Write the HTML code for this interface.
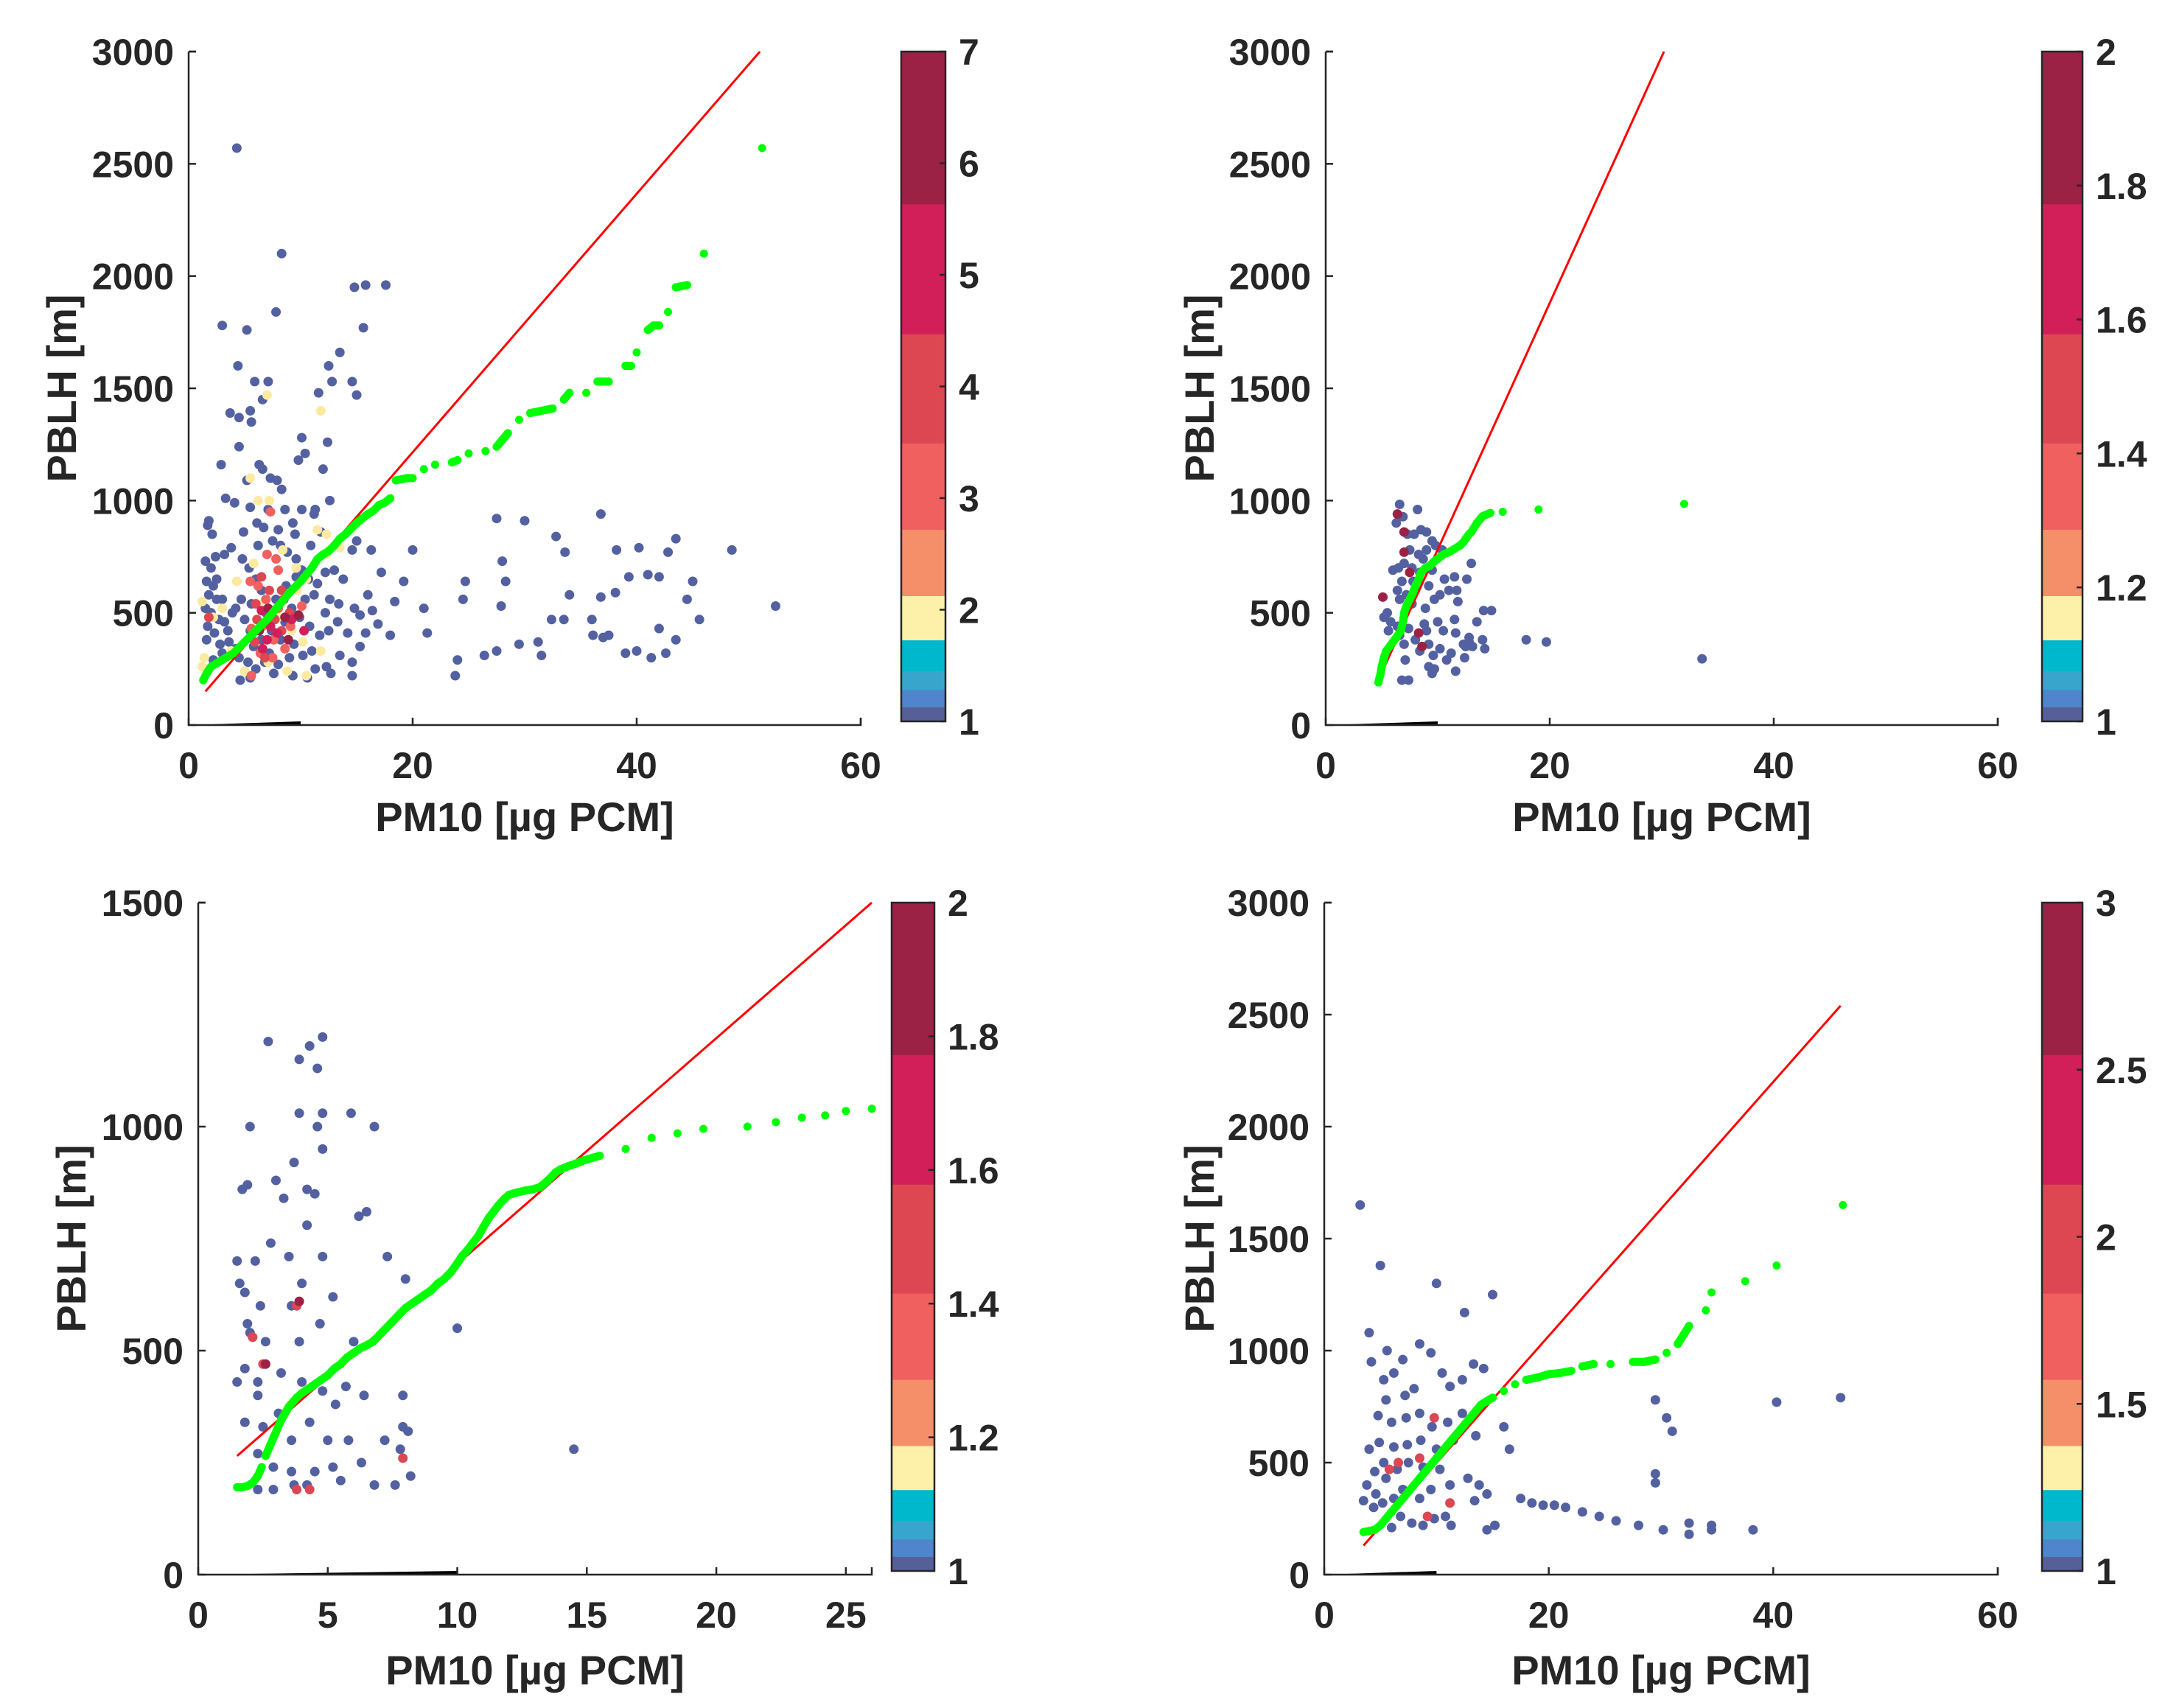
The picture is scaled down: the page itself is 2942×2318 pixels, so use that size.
<!DOCTYPE html>
<html><head><meta charset="utf-8">
<style>
html,body{margin:0;padding:0;background:#fff;}
svg{display:block;}
text{font-family:"Liberation Sans",Arial,sans-serif;font-weight:bold;fill:#262626;}
</style></head>
<body>
<svg id="chart" width="2942" height="2318" viewBox="0 0 2942 2318" xmlns="http://www.w3.org/2000/svg"></svg>
<script>
// ---------- DATA (top-level arrays) ----------
// Panel A (top-left)
const aScatterX=[4.3,8.3,7.8,3,5.2,14.8,15.8,17.6,15.6,13.5,12.5,4.4,5.9,7.1,12.8,14.6,15,11.6,3.7,5.5,4.5,5.6,6.6,10.1,12.4,4.5,10.4,9.8,6.3,6.6,2.9,12,7.3,5.2,7.9,8.3,3.3,4.1,12.6,11.3,1.8,1.7,11.2,10.1,8.6,7.1,5.5,9.3,
27.5,30,36.8,32.8,43.5,40.2,38.2,48.5,42.8,33.6,28,20,16.3,15,14.6,17.2,19.2,21,24.7,28.3,39.3,41,42,45,36.8,38.1,34,44.5,24.5,18.4,18,21.3,16.4,16.9,27.9,45.6,52.4,32.4,33.5,36,36.1,37,37.5,42,43.5,31.2,29.5,27.5,26.4,24,23.8,31.5,39,40,41.3,42.6,15.3,14.6,14.6,12.7,13.5,
1.5,2,2.4,1.6,2.2,1.8,2.5,3.2,3.8,1.5,2,2.7,1.7,3.2,3.5,2.3,1.6,2.8,3.6,4.2,3,2.2,4.5,5.3,6,4.6,5.5,7.6,9.3,10.6,11.3,12.3,11,10.2,9,8,6.8,4.7,5.6,4.2,5,3.9,6.5,6,5.4,4.8,6.2,7.5,8.2,8.8,9.6,10.1,10.7,11.5,12.2,13,12.6,13.4,12.2,13.3,12.5,11.7,10.8,9.9,10.4,11.2,9.2,8.6,7.4,8.2,9.4,6.5,7.2,5.8,5.5,6.9,7.8,8.7,9.6,13.8,14.2,15.3,15.8,14.8,16,3,2.5,2.1,4.9,6.1,6.7,8,9.5,10.9,11.8,
1.2,1.4,1.2,2.2,3,5.8,6.2,7.2,8.4,9.6,10.5,11.5,11.8,7,5.5,4.3,6.8,8,9.2,10.2,11.8,10.5,8.8,7.1,5,3.8,12.3,13.5,12.3,9.7,
5.5,6.2,7,7.8,8,6.9,5.6,6.6,8,9.1,7.6,6.4,5.6,10.1,8.6,7.3,7.5,
6,7.2,8.3,6.1,7.7,9,5.9,6.8,8.3,6.5,1.8,
6.5,7.3,8.5,7.9,9.2,7,6.6,10.3,
7.1,8.6,6.3,8.9,9.8];
const aScatterY=[2570,2100,1840,1780,1760,1950,1960,1960,1770,1660,1600,1600,1530,1530,1530,1530,1470,1480,1390,1400,1370,1350,1450,1280,1260,1240,1210,1180,1160,1140,1160,1140,1100,1090,1090,1050,1010,990,1000,960,910,890,940,960,960,960,970,900,
920,910,940,840,830,790,780,780,770,770,730,780,780,820,780,680,640,520,640,640,660,670,660,640,570,590,580,560,560,550,400,410,510,450,530,470,530,470,470,470,400,390,400,430,380,370,360,330,310,290,220,310,320,330,300,320,350,280,220,230,310,
730,700,750,640,620,580,650,760,790,520,500,470,440,460,420,410,380,360,370,340,320,290,300,280,250,200,210,230,220,210,250,260,330,310,300,270,280,560,540,520,470,500,600,650,700,740,800,820,800,770,740,690,650,630,680,690,560,540,500,460,420,400,440,480,560,580,520,460,420,380,360,380,320,350,420,500,560,620,660,650,410,490,410,520,580,560,560,850,860,900,880,870,850,800,860,
550,300,260,480,520,720,1000,1000,780,700,650,870,1400,1470,1100,640,550,480,420,370,330,220,240,280,240,330,760,790,850,600,
640,620,760,740,690,560,430,440,520,440,380,320,220,530,340,950,300,
540,600,600,470,470,500,370,300,420,660,480,
510,440,560,410,470,380,340,420,
520,480,420,380,490];
const aScatterLevel=[].concat(Array(aScatterX.length-71).fill(0),Array(30).fill(1),Array(17).fill(2),Array(11).fill(3),Array(8).fill(4),Array(5).fill(5));
const aGreenX=[1.3,1.6,2,2.5,3,3.5,4,4.5,5,5.5,6,6.5,7,7.5,8,8.5,9,9.5,10,10.5,11,11.5,12,12.5,13,13.5,14,14.5,15,15.5,16,16.5,17,17.5,18,18.5,19.5,20,21,22,23.5,24,25,26.5,27.5,28,28.5,29.5,30.5,31.5,32.5,33.5,34,35.5,36.5,37.5,39,39.5,40,41,41.5,42,42.8,43.5,44.5,46,51.2];
const aGreenY=[200,230,260,275,290,305,320,345,370,395,420,445,470,500,530,560,590,615,640,670,700,740,760,775,800,830,850,875,900,920,940,955,980,990,1010,1090,1100,1100,1140,1160,1170,1180,1210,1220,1240,1270,1300,1360,1390,1400,1410,1450,1480,1480,1530,1530,1600,1600,1660,1760,1780,1780,1840,1950,1960,2100,2570];
const aRedX=[1.5,51];
const aRedY=[150,3000];
const aColorTicks=[1,2,3,4,5,6,7];

// Panel B (top-right)
const bScatterX=[6.6,8.2,6.9,6.3,7.3,8.5,7.9,9,9.5,9,7.5,7,8.3,8.7,9.8,10.4,6,6.5,7.7,8.4,9.5,10.6,11.5,12.6,13,11.7,11,10.2,9.2,8,7.2,6.6,7.7,8.9,9.7,11.8,14.1,14.8,11.5,10,8.8,5.5,5.2,5.8,6.4,7.4,9,10.5,11.6,12.8,13.5,5.6,6.6,8,9.2,10.2,11.2,12.3,12.5,13.1,14,14.2,12.8,7,8.4,9.6,10.8,12.4,7.1,9.2,11.6,9.7,9.5,6.8,7.4,17.9,19.7,33.6,6.4,6.8,7.8,
6.4,7,7,5.1,8.3,8.6,7.5];
const bScatterY=[983,960,928,900,850,870,850,860,820,780,780,720,760,740,800,780,690,700,700,680,690,650,660,650,720,600,600,580,620,600,580,560,540,520,560,550,510,510,470,460,450,500,480,460,440,430,420,420,410,390,460,420,400,380,360,340,320,360,350,350,380,340,370,360,330,310,290,300,290,260,240,250,230,200,200,380,370,295,600,640,640,
940,860,770,570,410,350,680];
const bScatterLevel=[].concat(Array(bScatterX.length-7).fill(0),Array(7).fill(5));
const bGreenX=[4.7,4.9,5,5.2,5.4,5.7,6,6.3,6.7,6.9,7,7.2,7.5,7.8,8,8.3,8.5,8.9,9.3,9.7,10,10.5,11,11.5,12,12.3,12.5,12.8,13,13.5,14,14.7,15.8,19,32];
const bGreenY=[190,230,260,300,330,350,370,390,420,460,500,530,560,590,620,650,680,700,710,730,740,760,770,785,800,815,830,850,860,900,930,945,950,960,985];
const bRedX=[4.7,30.2];
const bRedY=[200,3000];
const bColorTicks=[1,1.2,1.4,1.6,1.8,2];

// Panel C (bottom-left)
const cScatterX=[2.7,4.3,4.8,3.9,4.6,1.7,1.9,3.3,4.2,4.5,2,4.6,4.8,3.9,5.9,6.8,4.8,3.7,6.2,6.5,3,4.2,2.2,1.5,2.8,3.5,4.8,5.2,4,1.8,2.4,3.6,4.7,2,2.6,1.8,1.5,2.3,3.2,4,4.8,5.7,6.4,5.3,2.3,1.8,2.5,3.1,3.6,2.3,2.9,3.6,4.5,5.2,5.5,4.2,2.3,2.9,3.7,6.8,7.6,6.3,7.2,7.8,7.9,8.1,8.2,7.9,7.3,8,10,14.5,3.9,4.3,5,5.8,1.9,6,1.6,
3.8,2.1,2.5,7.9,3.8,4.3,
2.6,3.9];
const cScatterY=[1190,1180,1200,1150,1130,860,870,840,860,850,1000,1000,1030,1030,1030,1000,950,920,800,810,880,780,700,700,740,710,710,620,650,630,600,600,560,540,520,460,430,430,450,430,410,420,400,380,400,340,330,360,300,270,240,230,230,240,210,200,190,190,200,200,200,250,300,280,330,320,220,400,710,660,550,280,520,340,300,300,560,520,650,
600,530,470,260,190,190,
470,610];
const cScatterLevel=[].concat(Array(cScatterX.length-8).fill(0),Array(6).fill(3),Array(2).fill(5));
const cGreenX=[1.5,1.7,1.9,2.1,2.3,2.45,2.6,2.75,2.9,3.05,3.2,3.35,3.5,3.65,3.8,4,4.25,4.5,4.75,5,5.25,5.5,5.75,6,6.25,6.5,6.75,7,7.25,7.5,7.75,8,8.25,8.5,8.75,9,9.25,9.5,9.75,10,10.2,10.4,10.6,10.8,11,11.2,11.4,11.6,11.8,12,12.3,12.6,12.9,13.2,13.5,13.8,14,14.3,14.6,14.9,15.2,15.5,16.5,17.5,18.5,19.5,21.2,22.3,23.3,24.2,25,26];
const cGreenY=[195,195,198,205,220,240,265,285,305,325,345,360,375,385,395,405,415,425,435,445,460,470,485,495,505,512,520,535,550,565,580,595,605,615,625,635,650,660,675,695,712,725,740,755,775,795,810,825,838,848,853,857,860,865,880,898,905,912,918,925,930,935,950,975,985,995,1000,1010,1020,1025,1035,1040];
const cRedX=[1.5,26];
const cRedY=[265,1500];
const cColorTicks=[1,1.2,1.4,1.6,1.8,2];

// Panel D (bottom-right)
const dScatterX=[3.2,5,10,12.5,15,4,4.2,5.6,8.5,9.5,7,6.2,5.3,10.5,12.3,13.3,14.2,11.2,8,7.2,5.5,4.8,6,7.3,8.5,9.6,11,12.3,13.5,11.5,10,8.6,7.4,6.2,4.9,4,5.3,6.5,7.5,8.8,10.3,11.2,12.8,13.8,14.5,13.4,3.8,4.6,3.5,4.4,5.2,6.2,7,8.5,9.5,6.8,7.8,8.8,9.8,10.8,11.3,6,14.5,15.2,5.5,4.5,16.5,16,17.5,18.5,19.5,20.5,21.5,23,24.5,26,28,30.2,32.5,34.5,34.5,38.2,29.5,30.5,31,29.5,29.5,32.5,40.3,46,
5.8,6.6,8.5,9.2,11.2,9.8];
const dScatterY=[1650,1380,1300,1170,1250,1080,950,1000,1030,990,960,900,870,900,870,940,920,840,830,800,780,710,680,700,720,660,680,720,620,600,560,600,580,570,590,560,500,470,500,480,470,400,430,400,360,330,400,360,330,300,320,340,380,340,380,260,230,220,250,260,220,210,200,220,430,460,560,660,340,320,310,310,300,280,260,240,220,200,230,220,200,200,780,700,640,450,410,180,770,790,
470,500,520,260,320,700];
const dScatterLevel=[].concat(Array(dScatterX.length-6).fill(0),Array(6).fill(3));
const dGreenX=[3.5,4,4.5,5,5.5,6,6.5,7,7.5,8,8.5,9,9.5,10,10.5,11,11.5,12,12.5,13,13.5,14,14.5,15,16,17,18,19,20,21,22,23,24,25.5,27.5,28.5,29.5,30.5,31.5,32,32.5,34,34.5,37.5,40.3,46.2];
const dGreenY=[190,195,200,220,250,280,310,340,370,400,430,460,490,520,550,580,610,640,670,700,730,760,775,790,820,850,870,880,895,900,910,930,940,940,950,950,960,990,1030,1070,1110,1180,1260,1310,1380,1650];
const dRedX=[3.5,46];
const dRedY=[130,2540];
const dColorTicks=[1,1.5,2,2.5,3];

// ---------- RENDERING ----------
const NS='http://www.w3.org/2000/svg';
const svg=document.getElementById('chart');
const levelColors=['#5361a0','#fbeaa0','#f0605f','#dc4752','#d21f5a','#9b2145'];
const bandColors=['#9b2145','#d21f5a','#dc4752','#f0605f','#f48f6a','#fdf0a8','#00b8cc','#38a6cc','#4e85cc','#556099'];
const bandStops=[0,0.228,0.422,0.585,0.714,0.813,0.879,0.925,0.953,0.979,1];
function mk(tag,attrs,parent){const e=document.createElementNS(NS,tag);for(const k in attrs)e.setAttribute(k,attrs[k]);(parent||svg).appendChild(e);return e;}

const panels=[
 {id:'top-left',L:256,R:1168,T:70,B:984,xmax:60,ymax:3000,xt:[0,20,40,60],yt:[0,500,1000,1500,2000,2500,3000],cbL:1223,cbR:1283,cbT:70,cbB:979,sx:aScatterX,sy:aScatterY,sl:aScatterLevel,gx:aGreenX,gy:aGreenY,rx:aRedX,ry:aRedY,ct:aColorTicks,ylx:83,xly:1128},
 {id:'top-right',L:1799,R:2711,T:70,B:984,xmax:60,ymax:3000,xt:[0,20,40,60],yt:[0,500,1000,1500,2000,2500,3000],cbL:2771,cbR:2826,cbT:70,cbB:979,sx:bScatterX,sy:bScatterY,sl:bScatterLevel,gx:bGreenX,gy:bGreenY,rx:bRedX,ry:bRedY,ct:bColorTicks,ylx:1627,xly:1128},
 {id:'bottom-left',L:269,R:1183,T:1225,B:2137,xmax:26,ymax:1500,xt:[0,5,10,15,20,25],yt:[0,500,1000,1500],cbL:1210,cbR:1268,cbT:1225,cbB:2132,sx:cScatterX,sy:cScatterY,sl:cScatterLevel,gx:cGreenX,gy:cGreenY,rx:cRedX,ry:cRedY,ct:cColorTicks,ylx:96,xly:2286},
 {id:'bottom-right',L:1797,R:2711,T:1225,B:2137,xmax:60,ymax:3000,xt:[0,20,40,60],yt:[0,500,1000,1500,2000,2500,3000],cbL:2771,cbR:2826,cbT:1225,cbB:2132,sx:dScatterX,sy:dScatterY,sl:dScatterLevel,gx:dGreenX,gy:dGreenY,rx:dRedX,ry:dRedY,ct:dColorTicks,ylx:1627,xly:2286}
];

panels.forEach(p=>{
  const g=mk('g',{});
  
  
  const X=v=>p.L+(v/p.xmax)*(p.R-p.L);
  const Y=v=>p.B-(v/p.ymax)*(p.B-p.T);
  const sg=mk('g',{},g);
  
  
  const n=Math.min(p.sx.length,p.sy.length);
  const idx=[];for(let i=0;i<n;i++)idx.push(i);
  idx.sort((a,b)=>(p.sl[a]||0)-(p.sl[b]||0));
  idx.forEach(i=>{
    const c=mk('circle',{cx:X(p.sx[i]),cy:Y(p.sy[i]),r:6.5,fill:levelColors[p.sl[i]||0]},sg);
    
    
  });
  const w=mk('polygon',{points:`${X(0)},${Y(0)} ${X(10)},${Y(0)-5} ${X(10)},${Y(0)}`,fill:'#000'},g);
  
  
  const rl=mk('line',{x1:X(p.rx[0]),y1:Y(p.ry[0]),x2:X(p.rx[1]),y2:Y(p.ry[1]),stroke:'#ff0000','stroke-width':3},g);
  
  
  const gg=mk('g',{},g);
  
  
  for(let i=1;i<p.gx.length;i++){
    const x1=X(p.gx[i-1]),y1=Y(p.gy[i-1]),x2=X(p.gx[i]),y2=Y(p.gy[i]);
    if(Math.hypot(x2-x1,y2-y1)<16){mk('line',{x1,y1,x2,y2,stroke:'#00ff00','stroke-width':11,'stroke-linecap':'round'},gg);}
  }
  p.gx.forEach((v,i)=>{
    const c=mk('circle',{cx:X(v),cy:Y(p.gy[i]),r:5.5,fill:'#00ff00'},gg);
    
    
  });
  const ax=mk('path',{d:`M${p.L},${p.T}H${p.L+10}M${p.L},${p.T}V${p.B}H${p.R}V${p.B-10}`,stroke:'#262626','stroke-width':2.5,fill:'none'},g);
  
  
  p.yt.forEach(v=>{
    mk('line',{x1:p.L,y1:Y(v),x2:p.L+10,y2:Y(v),stroke:'#262626','stroke-width':2.5},g);
    const t=mk('text',{x:p.L-20,y:Y(v)+18,'text-anchor':'end','font-size':50},g);
    t.textContent=v;
    
    
  });
  p.xt.forEach(v=>{
    mk('line',{x1:X(v),y1:p.B,x2:X(v),y2:p.B-10,stroke:'#262626','stroke-width':2.5},g);
    const t=mk('text',{x:X(v),y:p.B+72,'text-anchor':'middle','font-size':50},g);
    t.textContent=v;
    
    
  });
  const yl=mk('text',{x:0,y:0,'text-anchor':'middle','font-size':56,transform:`translate(${p.ylx+20},${(p.T+p.B)/2}) rotate(-90)`},g);
  yl.textContent='PBLH [m]';
  
  
  const xl=mk('text',{x:(p.L+p.R)/2,y:p.xly,'text-anchor':'middle','font-size':56},g);
  xl.textContent='PM10 [µg PCM]';
  
  
  const cb=mk('g',{},g);
  
  
  const H=p.cbB-p.cbT;
  for(let k=0;k<bandColors.length;k++){
    mk('rect',{x:p.cbL,y:p.cbT+bandStops[k]*H,width:p.cbR-p.cbL,height:(bandStops[k+1]-bandStops[k])*H+0.5,fill:bandColors[k]},cb);
  }
  mk('rect',{x:p.cbL,y:p.cbT,width:p.cbR-p.cbL,height:H,fill:'none',stroke:'#262626','stroke-width':2.5},cb);
  const cmin=p.ct[0],cmax=p.ct[p.ct.length-1];
  p.ct.forEach(v=>{
    const yy=p.cbB-(v-cmin)/(cmax-cmin)*H;
    mk('line',{x1:p.cbR-8,y1:yy,x2:p.cbR,y2:yy,stroke:'#262626','stroke-width':2.5},cb);
    const t=mk('text',{x:p.cbR+18,y:yy+18,'font-size':50},cb);
    t.textContent=v;
    
    
  });
});
</script>
</body></html>
